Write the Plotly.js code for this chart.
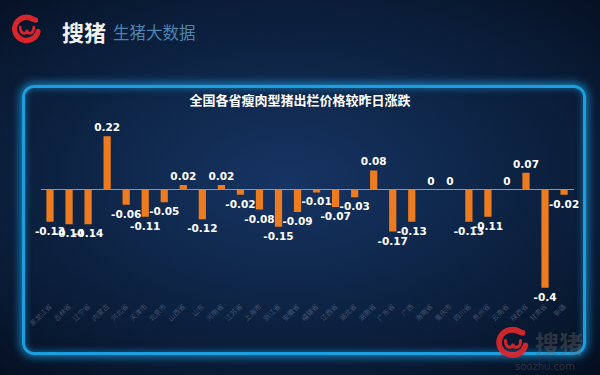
<!DOCTYPE html>
<html>
<head>
<meta charset="utf-8">
<script src="https://cdn.plot.ly/plotly-3.0.1.min.js"></script>
<style>
html,body{margin:0;padding:0;width:600px;height:375px;overflow:hidden;}
body{background:radial-gradient(ellipse 75% 70% at 48% 48%, #163463 0%, #0e2547 45%, #081830 80%, #050f20 100%);}
#frame{position:absolute;left:22px;top:85px;width:558px;height:264px;border:3px solid #1b9fe0;border-radius:12px;box-shadow:0 0 8px 2px rgba(30,160,230,0.75), inset 0 0 6px 1px rgba(30,160,230,0.5);}
#chart{position:absolute;left:0;top:0;width:600px;height:375px;}
</style>
</head>
<body>
<div id="frame"></div>
<div id="chart"></div>
<script>
var provinces = ["黑龙江省","吉林省","辽宁省","内蒙古","河北省","天津市","北京市","山西省","山东","河南省","江苏省","上海市","浙江省","安徽省","福建省","江西省","湖北省","湖南省","广东省","广西","海南省","重庆市","四川省","贵州省","云南省","陕西省","甘肃省","新疆"];
var changes = [-0.13,-0.14,-0.14,0.22,-0.06,-0.11,-0.05,0.02,-0.12,0.02,-0.02,-0.08,-0.15,-0.09,-0.01,-0.07,-0.03,0.08,-0.17,-0.13,0,0,-0.13,-0.11,0,0.07,-0.4,-0.02];
var chartTitle = "全国各省瘦肉型猪出栏价格较昨日涨跌";

function logoSvg(op){
  var c = 'rgba(216,38,44,' + op + ')';
  var s = '<svg xmlns="http://www.w3.org/2000/svg" width="40" height="36" viewBox="0 0 40 36">'+
    '<path d="M27 8 A14 13 0 1 0 33 22" fill="none" stroke="'+c+'" stroke-width="6" stroke-linecap="round"/>'+
    '<path d="M12 17 q0 7 5 7 q3 0 3-4 q0 4 3 4 q5 0 5-7" fill="none" stroke="'+c+'" stroke-width="3.2" stroke-linecap="round"/>'+
    '<circle cx="30" cy="9" r="3" fill="'+c+'"/></svg>';
  return 'data:image/svg+xml;base64,' + btoa(s);
}

var trace = {
  type: 'bar',
  x: provinces,
  y: changes,
  marker: {color: '#ec7c1f'},
  width: 0.38,
  text: changes.map(function(v){return String(v);}),
  textposition: 'outside',
  textfont: {color: '#ffffff', size: 10.5, family: 'DejaVu Sans, sans-serif', weight: 'bold'},
  constraintext: 'none',
  cliponaxis: false,
  hoverinfo: 'none'
};

var layout = {
  width: 600, height: 375,
  margin: {l:0, r:0, t:0, b:0},
  paper_bgcolor: 'rgba(0,0,0,0)',
  plot_bgcolor: 'rgba(0,0,0,0)',
  showlegend: false,
  title: {text: chartTitle, x: 0.5, xanchor: 'center', y: 0.733, yanchor: 'middle',
          font: {family: 'Noto Sans CJK SC, sans-serif', size: 13, color: '#ffffff', weight: 'bold'}},
  xaxis: {domain: [0.0675, 0.956], type: 'category', range: [-0.5, 27.5],
          showgrid: false, showline: false, zeroline: false, ticks: '',
          tickangle: -45, tickfont: {size: 7, color: 'rgba(170,180,200,0.35)', family: 'Noto Sans CJK SC'}},
  yaxis: {domain: [0.2, 0.689], range: [-0.45, 0.3], showgrid: false, showticklabels: false,
          zeroline: true, zerolinecolor: '#8b95a8', zerolinewidth: 1, showline: false, ticks: ''},
  images: [
    {source: logoSvg(1), xref: 'paper', yref: 'paper', x: 10/600, y: 1 - 12/375, sizex: 34/600, sizey: 32/375, xanchor: 'left', yanchor: 'top', sizing: 'stretch', layer: 'above'},
    {source: logoSvg(0.95), xref: 'paper', yref: 'paper', x: 494/600, y: 1 - 324/375, sizex: 38/600, sizey: 35/375, xanchor: 'left', yanchor: 'top', sizing: 'stretch', layer: 'above'}
  ],
  annotations: [
    {text: '搜猪', xref: 'paper', yref: 'paper', x: 60/600, y: 1 - 31/375, xanchor: 'left', yanchor: 'middle', showarrow: false,
     font: {family: 'Noto Sans CJK SC', size: 22, color: '#f2f2f2', weight: 'bold'}},
    {text: '生猪大数据', xref: 'paper', yref: 'paper', x: 111/600, y: 1 - 32/375, xanchor: 'left', yanchor: 'middle', showarrow: false,
     font: {family: 'Noto Sans CJK SC', size: 16.5, color: '#4d84b0'}},
    {text: '搜猪', xref: 'paper', yref: 'paper', x: 533/600, y: 1 - 342/375, xanchor: 'left', yanchor: 'middle', showarrow: false,
     font: {family: 'Noto Sans CJK SC', size: 24, color: 'rgba(110,100,100,0.4)', weight: 'bold'}},
    {text: 'soozhu.com', xref: 'paper', yref: 'paper', x: 545/600, y: 1 - 366/375, xanchor: 'center', yanchor: 'middle', showarrow: false,
     font: {family: 'DejaVu Sans', size: 10, color: 'rgba(110,100,100,0.4)'}}
  ]
};

Plotly.newPlot('chart', [trace], layout, {displayModeBar: false, staticPlot: true});
</script>
</body>
</html>
